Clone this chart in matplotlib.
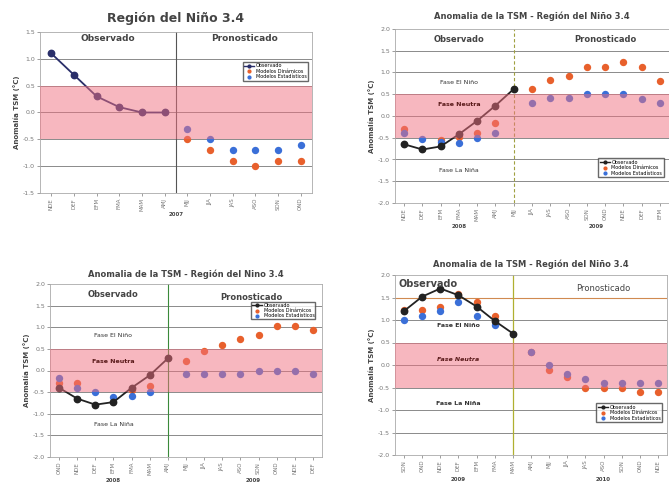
import numpy as np
import matplotlib.pyplot as plt
from matplotlib.lines import Line2D

# ---------------- data ----------------
# panel 1 (2007)
cats1 = ["NDE", "DEF", "EFM", "FMA", "MAM", "AMJ", "MJJ", "JJA", "JAS", "ASO", "SON", "OND"]
obs1 = [1.1, 0.7, 0.3, 0.1, 0.0, 0.0]
din1 = [None] * 6 + [-0.5, -0.7, -0.9, -1.0, -0.9, -0.9]
est1 = [None] * 6 + [-0.3, -0.5, -0.7, -0.7, -0.7, -0.6]

# panel 2 (2008-2009)
cats2 = ["NDE", "DEF", "EFM", "FMA", "MAM", "AMJ", "MJJ", "JJA", "JAS", "ASO", "SON", "OND", "NDE", "DEF", "EFM"]
obs2 = [-0.65, -0.77, -0.7, -0.42, -0.11, 0.24, 0.62]
din2 = [-0.3, None, -0.55, -0.48, -0.38, -0.17, None, 0.62, 0.83, 0.93, 1.12, 1.12, 1.23, 1.12, 0.81]
est2 = [-0.38, -0.52, -0.6, -0.62, -0.5, -0.38, None, 0.3, 0.41, 0.41, 0.51, 0.51, 0.51, 0.4, 0.3]

# panel 3 (2008-2009)
cats3 = ["OND", "NDE", "DEF", "EFM", "FMA", "MAM", "AMJ", "MJJ", "JJA", "JAS", "ASO", "SON", "OND", "NDE", "DEF"]
obs3 = [-0.4, -0.65, -0.79, -0.73, -0.4, -0.11, 0.28]
din3 = [-0.3, -0.28, None, None, -0.44, -0.36, None, 0.22, 0.44, 0.6, 0.72, 0.81, 1.02, 1.02, 0.93]
est3 = [-0.18, -0.4, -0.5, -0.62, -0.6, -0.5, None, -0.08, -0.08, -0.08, -0.08, 0.0, 0.0, 0.0, -0.08]

# panel 4 (2009-2010)
cats4 = ["SON", "OND", "NDE", "DEF", "EFM", "FMA", "MAM", "AMJ", "MJJ", "JJA", "JAS", "ASO", "SON", "OND", "NDE"]
obs4 = [1.2, 1.52, 1.7, 1.55, 1.3, 0.98, 0.7]
din4 = [1.22, 1.22, 1.3, 1.58, 1.4, 1.1, None, 0.3, -0.1, -0.27, -0.5, -0.5, -0.5, -0.6, -0.6]
est4 = [1.0, 1.1, 1.2, 1.4, 1.1, 0.9, None, 0.3, 0.0, -0.2, -0.3, -0.4, -0.4, -0.4, -0.4]

RED = "#e8602c"
BLUE = "#3a6fd8"
GREY = "#777777"


def tovals(v):
    return np.array([np.nan if x is None else x for x in v], dtype=float)


def panel(ax, cats, obs, din, est, ylim, sep, sepstyle, title, tsize, tpad, obscol):
    x = np.arange(len(cats))
    ax.set_xlim(-0.5, len(cats) - 0.5)
    ax.set_ylim(*ylim)
    yt = np.arange(ylim[0], ylim[1] + 0.01, 0.5)
    ax.set_yticks(yt)
    ax.set_yticklabels(["%.1f" % t for t in yt], fontsize=4.5, color=GREY)
    ax.set_xticks(x)
    ax.set_xticklabels(cats, rotation=90, fontsize=4, color=GREY)
    ax.tick_params(length=2, width=0.5, colors=GREY, pad=1.5)
    for t in yt[1:-1]:
        ax.axhline(t, color="#8a8a8a", lw=0.7, zorder=1)
    for s in ax.spines.values():
        s.set_color("#aaaaaa")
        s.set_linewidth(0.6)
    ax.axvline(sep, zorder=1.5, **sepstyle)
    ax.plot(np.arange(len(din)), tovals(din), "o", color=RED, ms=5.3, mec="none", zorder=2)
    ax.plot(np.arange(len(est)), tovals(est), "o", color=BLUE, ms=5.3, mec="none", zorder=2)
    ax.plot(np.arange(len(obs)), obs, "-o", color=obscol, lw=1.3, ms=4.6, zorder=2.5)
    # neutral band drawn over the points, as in the original
    ax.axhspan(-0.5, 0.5, color="#f07080", alpha=0.5, lw=0, zorder=3)
    ax.set_title(title, fontsize=tsize, fontweight="bold", color="#444444", pad=tpad)
    ax.set_ylabel("Anomalía TSM (°C)", fontsize=5, color="#444444", fontweight="bold", labelpad=2)
    handles = [Line2D([], [], color=obscol, marker="o", ms=2, lw=1),
               Line2D([], [], color=RED, marker="o", ms=2, lw=0),
               Line2D([], [], color=BLUE, marker="o", ms=2, lw=0)]
    return handles


fig = plt.figure(figsize=(6.69, 4.90), dpi=100)
labels = ["Observado", "Modelos Dinámicos", "Modelos Estadísticos"]
leg_kw = dict(fontsize=3.5, frameon=True, fancybox=False, edgecolor="#444444", borderpad=0.3,
              handlelength=2, labelspacing=0.1, handletextpad=0.4)
yr_kw = dict(ha="center", va="center", fontsize=4, color="#444444", fontweight="bold", clip_on=False)

# ---- panel 1
ax1 = fig.add_axes([40 / 669, 297 / 490, 272 / 669, 161 / 490])
h = panel(ax1, cats1, obs1, din1, est1, (-1.5, 1.5), 5.5,
          dict(color="#555555", lw=0.8), "Región del Niño 3.4", 9, 7, "#2a2f6a")
ax1.text(2.5, 1.38, "Observado", ha="center", va="center", fontsize=6.5, fontweight="bold", color="#444444")
ax1.text(8.5, 1.38, "Pronosticado", ha="center", va="center", fontsize=6.5, fontweight="bold", color="#444444")
ax1.legend(h, labels, loc="upper right", bbox_to_anchor=(0.995, 0.83), **leg_kw)
ax1.text(5.5, -1.9, "2007", **yr_kw)

# ---- panel 2
ax2 = fig.add_axes([395 / 669, 287 / 490, 274 / 669, 174 / 490])
h = panel(ax2, cats2, obs2, din2, est2, (-2.0, 2.0), 6,
          dict(color="#a0a040", lw=0.8, ls=(0, (3, 2))), "Anomalia de la TSM - Región del Niño 3.4", 6, 7,
          "#222222")
ax2.text(3, 1.75, "Observado", ha="center", va="center", fontsize=6, fontweight="bold", color="#444444")
ax2.text(11, 1.75, "Pronosticado", ha="center", va="center", fontsize=6, fontweight="bold", color="#444444")
ax2.text(3, 0.78, "Fase El Niño", ha="center", va="center", fontsize=4.5, color="#333333")
ax2.text(3, 0.27, "Fase Neutra", ha="center", va="center", fontsize=4.5, fontweight="bold", color="#5a1a1a", zorder=4)
ax2.text(3, -1.25, "Fase La Niña", ha="center", va="center", fontsize=4.5, color="#333333")
ax2.legend(h, labels, loc="upper right", bbox_to_anchor=(0.99, 0.27), **leg_kw)
ax2.text(3, -2.55, "2008", **yr_kw)
ax2.text(10.5, -2.55, "2009", **yr_kw)

# ---- panel 3
ax3 = fig.add_axes([50 / 669, 33 / 490, 272 / 669, 173 / 490])
h = panel(ax3, cats3, obs3, din3, est3, (-2.0, 2.0), 6,
          dict(color="#3a8a3a", lw=0.8), "Anomalia de la TSM - Región del Nino 3.4", 6, 5, "#222222")
ax3.text(3, 1.75, "Observado", ha="center", va="center", fontsize=6, fontweight="bold", color="#444444")
ax3.text(10.6, 1.68, "Pronosticado", ha="center", va="center", fontsize=6, fontweight="bold", color="#444444")
ax3.text(3, 0.8, "Fase El Niño", ha="center", va="center", fontsize=4.5, color="#333333")
ax3.text(3, 0.2, "Fase Neutra", ha="center", va="center", fontsize=4.5, fontweight="bold", color="#5a1a1a", zorder=4)
ax3.text(3, -1.25, "Fase La Niña", ha="center", va="center", fontsize=4.5, color="#333333")
ax3.legend(h, labels, loc="upper right", bbox_to_anchor=(0.985, 0.91),
           **dict(leg_kw, borderpad=0.2, labelspacing=0.05))
ax3.text(3, -2.55, "2008", **yr_kw)
ax3.text(10.7, -2.55, "2009", **yr_kw)

# ---- panel 4
ax4 = fig.add_axes([395 / 669, 35 / 490, 272 / 669, 180 / 490])
h = panel(ax4, cats4, obs4, din4, est4, (-2.0, 2.0), 6,
          dict(color="#b0b030", lw=0.9), "Anomalia de la TSM - Región del Niño 3.4", 6, 6, "#222222")
ax4.axhline(1.5, color="#d08a50", lw=0.8, zorder=1.2)
ax4.text(-0.3, 1.8, "Observado", ha="left", va="center", fontsize=7, fontweight="bold", color="#444444")
ax4.text(11, 1.7, "Pronosticado", ha="center", va="center", fontsize=6, color="#444444")
ax4.text(3, 0.88, "Fase El Niño", ha="center", va="center", fontsize=4.5, fontweight="bold", color="#333333")
ax4.text(3, 0.12, "Fase Neutra", ha="center", va="center", fontsize=4.5, fontweight="bold", style="italic",
         color="#5a1a1a", zorder=4)
ax4.text(3, -0.85, "Fase La Niña", ha="center", va="center", fontsize=4.5, fontweight="bold", color="#333333")
ax4.legend(h, labels, loc="upper right", bbox_to_anchor=(0.99, 0.3), **leg_kw)
ax4.text(3, -2.55, "2009", **yr_kw)
ax4.text(11, -2.55, "2010", **yr_kw)

fig.savefig("out.png", dpi=100)
